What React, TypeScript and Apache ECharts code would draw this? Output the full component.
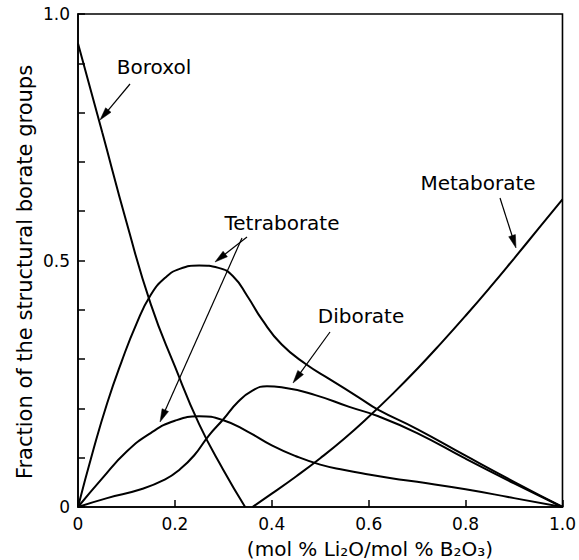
import { useEffect, useRef } from 'react';
import * as echarts from 'echarts';

// ---- data ----
const boroxolX = [0, 0.05, 0.1, 0.15, 0.2, 0.25, 0.3, 0.345];
const boroxolY = [0.94, 0.76, 0.578, 0.412, 0.285, 0.168, 0.075, 0];

const tetraUpperX = [0, 0.03, 0.06, 0.09, 0.12, 0.15, 0.18, 0.21, 0.25, 0.29, 0.32, 0.35, 0.38, 0.42, 0.47, 0.52, 0.58, 0.62, 0.7, 0.8, 0.9, 1.0];
const tetraUpperY = [0, 0.11, 0.21, 0.295, 0.37, 0.43, 0.465, 0.483, 0.49, 0.485, 0.468, 0.427, 0.38, 0.33, 0.29, 0.259, 0.222, 0.197, 0.158, 0.104, 0.051, 0];

const tetraLowerX = [0, 0.05, 0.1, 0.15, 0.2, 0.25, 0.3, 0.35, 0.4, 0.45, 0.5, 0.55, 0.6, 0.65, 0.7, 0.8, 0.9, 1.0];
const tetraLowerY = [0, 0.058, 0.112, 0.15, 0.175, 0.184, 0.176, 0.153, 0.125, 0.103, 0.086, 0.075, 0.066, 0.058, 0.051, 0.036, 0.018, 0];

const diborateX = [0, 0.06, 0.13, 0.18, 0.21, 0.24, 0.27, 0.3, 0.33, 0.36, 0.39, 0.42, 0.49, 0.56, 0.62, 0.7, 0.8, 0.9, 1.0];
const diborateY = [0, 0.018, 0.036, 0.056, 0.076, 0.105, 0.145, 0.178, 0.213, 0.236, 0.245, 0.243, 0.227, 0.203, 0.184, 0.15, 0.098, 0.048, 0];

const metaborateX = [0.36, 0.4, 0.45, 0.5, 0.55, 0.6, 0.65, 0.7, 0.75, 0.8, 0.85, 0.9, 0.95, 1.0];
const metaborateY = [0, 0.027, 0.062, 0.099, 0.139, 0.183, 0.23, 0.28, 0.333, 0.388, 0.445, 0.504, 0.564, 0.624];

const xTickLabels = ['0', '0.2', '0.4', '0.6', '0.8', '1.0'];
const yLabelValues = [0, 0.5, 1.0];
const yTickLabels = ['0', '0.5', '1.0'];

const yTitle = 'Fraction of the structural borate groups';
const xTitle = '(mol % Li₂O/mol % B₂O₃)';

const FONT = '"DejaVu Sans", "Noto Sans", sans-serif';

const pairs = (xs: number[], ys: number[]) => xs.map((x, i) => [x, ys[i]]);

function arrow(x1: number, y1: number, x2: number, y2: number) {
  const dx = x2 - x1;
  const dy = y2 - y1;
  const len = Math.sqrt(dx * dx + dy * dy);
  const ux = dx / len;
  const uy = dy / len;
  const L = 13;
  const W = 3.5;
  const bx = x2 - ux * L;
  const by = y2 - uy * L;
  const nx = -uy;
  const ny = ux;
  return [
    {
      type: 'line',
      shape: { x1, y1, x2: bx + ux * 2, y2: by + uy * 2 },
      style: { stroke: '#000', lineWidth: 1.2 },
      silent: true,
    },
    {
      type: 'polygon',
      shape: {
        points: [
          [x2, y2],
          [bx + nx * W, by + ny * W],
          [bx - nx * W, by - ny * W],
        ],
      },
      style: { fill: '#000', stroke: '#000', lineWidth: 0.5 },
      silent: true,
    },
  ];
}

function label(text: string, x: number, y: number) {
  return {
    type: 'text',
    x,
    y,
    style: {
      text,
      fill: '#000',
      fontSize: 20,
      fontFamily: FONT,
      align: 'center',
      verticalAlign: 'middle',
    },
    silent: true,
  };
}

function makeSeries(name: string, xs: number[], ys: number[], smooth: number) {
  return {
    name,
    type: 'line',
    data: pairs(xs, ys),
    smooth,
    showSymbol: false,
    symbol: 'none',
    lineStyle: { color: '#000', width: 2 },
    itemStyle: { color: '#000' },
    clip: true,
  };
}

export default function App() {
  const ref = useRef<HTMLDivElement>(null);
  useEffect(() => {
    document.body.style.margin = '0';
    const chart = echarts.init(ref.current!, null, { renderer: 'svg' });
    const option = {
      animation: false,
      backgroundColor: '#fff',
      grid: {
        left: 78,
        right: 13,
        top: 14,
        bottom: 53,
        show: true,
        borderColor: '#000',
        borderWidth: 1.6,
        backgroundColor: 'transparent',
      },
      xAxis: {
        type: 'value',
        min: 0,
        max: 1,
        interval: 0.2,
        axisLine: { show: true, onZero: false, lineStyle: { color: '#000', width: 1.6 } },
        axisTick: { show: true, inside: true, length: 7, lineStyle: { color: '#000', width: 1.5 } },
        axisLabel: {
          color: '#000',
          fontSize: 17,
          fontFamily: FONT,
          margin: 8,
          formatter: (v: number) => xTickLabels[Math.round(v / 0.2)] ?? '',
        },
        splitLine: { show: false },
      },
      yAxis: {
        type: 'value',
        min: 0,
        max: 1,
        interval: 0.1,
        axisLine: { show: true, onZero: false, lineStyle: { color: '#000', width: 1.6 } },
        axisTick: { show: true, inside: true, length: 7, lineStyle: { color: '#000', width: 1.5 } },
        axisLabel: {
          color: '#000',
          fontSize: 17,
          fontFamily: FONT,
          margin: 8,
          formatter: (v: number) => {
            const i = yLabelValues.findIndex((t) => Math.abs(t - v) < 1e-6);
            return i >= 0 ? yTickLabels[i] : '';
          },
        },
        splitLine: { show: false },
      },
      series: [
        makeSeries('Boroxol', boroxolX, boroxolY, 0.5),
        makeSeries('Tetraborate', tetraUpperX, tetraUpperY, 0.5),
        makeSeries('Tetraborate (lower)', tetraLowerX, tetraLowerY, 0.5),
        makeSeries('Diborate', diborateX, diborateY, 0.5),
        makeSeries('Metaborate', metaborateX, metaborateY, 0.5),
      ],
      graphic: [
        label('Boroxol', 154, 67),
        label('Tetraborate', 282, 223),
        label('Diborate', 361, 316),
        label('Metaborate', 478, 183),
        ...arrow(130, 84, 100, 120),
        ...arrow(247, 237, 215, 262),
        ...arrow(242, 238, 160, 422),
        ...arrow(330, 332, 293, 383),
        ...arrow(500, 198, 516, 248),
        {
          type: 'text',
          x: 25,
          y: 272,
          rotation: Math.PI / 2,
          style: {
            text: yTitle,
            fill: '#000',
            fontSize: 21,
            fontFamily: FONT,
            align: 'center',
            verticalAlign: 'middle',
          },
          silent: true,
        },
        {
          type: 'text',
          x: 370,
          y: 549,
          style: {
            text: xTitle,
            fill: '#000',
            fontSize: 20,
            fontFamily: FONT,
            align: 'center',
            verticalAlign: 'middle',
          },
          silent: true,
        },
      ],
    };
    chart.setOption(option as any);
    return () => chart.dispose();
  }, []);
  return <div ref={ref} style={{ width: 579, height: 560 }} />;
}
